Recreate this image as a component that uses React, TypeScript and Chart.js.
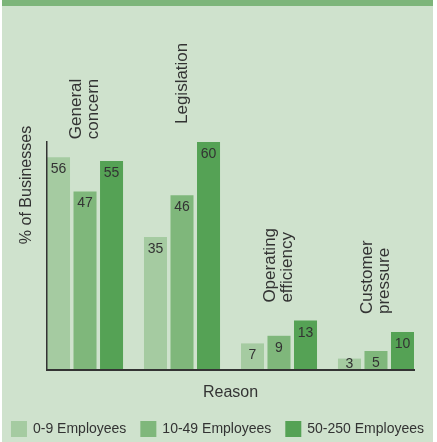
import { useEffect, useRef } from "react";
import { Chart, registerables } from "chart.js";

Chart.register(...registerables);

// ---- data ----
const categories: string[][] = [
  ["General", "concern"],
  ["Legislation"],
  ["Operating", "efficiency"],
  ["Customer", "pressure"],
];
const seriesNames = ["0-9 Employees", "10-49 Employees", "50-250 Employees"];
const employees0to9 = [56, 35, 7, 3];
const employees10to49 = [47, 46, 9, 5];
const employees50to250 = [55, 60, 13, 10];
const yAxisTitle = "% of Businesses";
const xAxisTitle = "Reason";
const yMax = 60;

// ---- styles ----
const W = 437;
const H = 442;
const FONT = '"Liberation Sans", Arial, Helvetica, sans-serif';
const TEXT = "#333333";
const BG = "#cfe2cd";
const BAND = "#7db57a";
const COLORS = ["#a5cba1", "#7fb77b", "#55a255"];
const CAT = 0.82;
const BAR = 0.868;
const X_PAD = 0.392;

const bgPlugin = {
  id: "bgPlugin",
  beforeDraw(chart: any) {
    const ctx = chart.ctx;
    ctx.save();
    ctx.fillStyle = "#ffffff";
    ctx.fillRect(0, 0, W, H);
    ctx.fillStyle = BG;
    ctx.fillRect(2, 0, 431, H);
    ctx.fillStyle = BAND;
    ctx.fillRect(2, 0, 431, 6);
    ctx.restore();
  },
};

const labelPlugin = {
  id: "labelPlugin",
  afterDatasetsDraw(chart: any) {
    const ctx = chart.ctx;
    const xs = chart.scales.x;
    const ca = chart.chartArea;
    ctx.save();
    ctx.fillStyle = TEXT;
    // value labels
    ctx.font = `14px ${FONT}`;
    ctx.textAlign = "center";
    ctx.textBaseline = "alphabetic";
    chart.data.datasets.forEach((ds: any, di: number) => {
      const meta = chart.getDatasetMeta(di);
      meta.data.forEach((bar: any, i: number) => {
        const v = ds.data[i].y;
        const y = Math.min(bar.y + 16, bar.base - 2);
        ctx.fillText(String(v), bar.x, y);
      });
    });
    // category labels (rotated, above each group)
    ctx.font = `17px ${FONT}`;
    ctx.textAlign = "left";
    ctx.textBaseline = "middle";
    categories.forEach((lines, i) => {
      const cx = xs.getPixelForValue(i);
      let top = Infinity;
      chart.data.datasets.forEach((_: any, di: number) => {
        const b: any = chart.getDatasetMeta(di).data[i];
        top = Math.min(top, b.y);
      });
      ctx.save();
      ctx.translate(cx, top - 18);
      ctx.rotate(-Math.PI / 2);
      lines.forEach((ln, k) => {
        ctx.fillText(ln, 0, (k - (lines.length - 1) / 2) * 17);
      });
      ctx.restore();
    });
    // axis titles
    ctx.font = `16px ${FONT}`;
    ctx.textAlign = "center";
    ctx.textBaseline = "middle";
    ctx.fillText(xAxisTitle, (ca.left + ca.right) / 2, ca.bottom + 23);
    ctx.save();
    ctx.translate(ca.left - 20, ca.top + 43);
    ctx.rotate(-Math.PI / 2);
    ctx.fillText(yAxisTitle, 0, 0);
    ctx.restore();
    ctx.restore();
  },
  afterDraw(chart: any) {
    // legend
    const ctx = chart.ctx;
    const ca = chart.chartArea;
    ctx.save();
    ctx.font = `14px ${FONT}`;
    ctx.textAlign = "left";
    ctx.textBaseline = "middle";
    const box = 16;
    const textGap = 6;
    const itemGap = 14;
    const dss = chart.data.datasets;
    const widths = dss.map((d: any) => box + textGap + ctx.measureText(d.label).width);
    const total = widths.reduce((a: number, b: number) => a + b, 0) + itemGap * (dss.length - 1);
    let x = (W - total) / 2 - 1;
    const y = ca.bottom + 51;
    dss.forEach((d: any, i: number) => {
      ctx.fillStyle = d.backgroundColor;
      ctx.fillRect(x, y, box, box);
      ctx.fillStyle = TEXT;
      ctx.fillText(d.label, x + box + textGap, y + box / 2 + 0.5);
      x += widths[i] + itemGap;
    });
    ctx.restore();
  },
};

export default function App() {
  const ref = useRef<HTMLCanvasElement | null>(null);
  useEffect(() => {
    document.body.style.margin = "0";
    const canvas = ref.current;
    if (!canvas) return;
    const series = [employees0to9, employees10to49, employees50to250];
    const chart = new Chart(canvas, {
      type: "bar",
      data: {
        datasets: series.map((vals, si) => ({
          label: seriesNames[si],
          data: vals.map((v, i) => ({ x: i, y: v })),
          backgroundColor: COLORS[si],
          borderWidth: 0,
          categoryPercentage: CAT,
          barPercentage: BAR,
        })),
      },
      options: {
        animation: false,
        responsive: false,
        devicePixelRatio: 1,
        layout: { padding: { left: 47, top: 142, right: 23, bottom: 72 } },
        plugins: {
          legend: { display: false },
          tooltip: { enabled: false },
          title: { display: false },
        },
        scales: {
          x: {
            type: "linear",
            offset: false,
            min: -X_PAD,
            max: categories.length - 1 + X_PAD,
            afterBuildTicks: (s: any) => {
              s.ticks = categories.map((_, i) => ({ value: i }));
            },
            ticks: { display: false },
            grid: { display: false, drawTicks: false },
            border: { display: true, color: "#333333", width: 2, z: 1 },
          },
          y: {
            min: 0,
            max: yMax,
            ticks: { display: false },
            grid: { display: false, drawTicks: false },
            border: { display: true, color: "#333333", width: 1.5, z: 1 },
          },
        },
      } as any,
      plugins: [bgPlugin, labelPlugin],
    } as any);
    return () => chart.destroy();
  }, []);
  return (
    <div style={{ width: W, height: H }}>
      <canvas ref={ref} width={W} height={H} style={{ width: W, height: H, display: "block" }} />
    </div>
  );
}
